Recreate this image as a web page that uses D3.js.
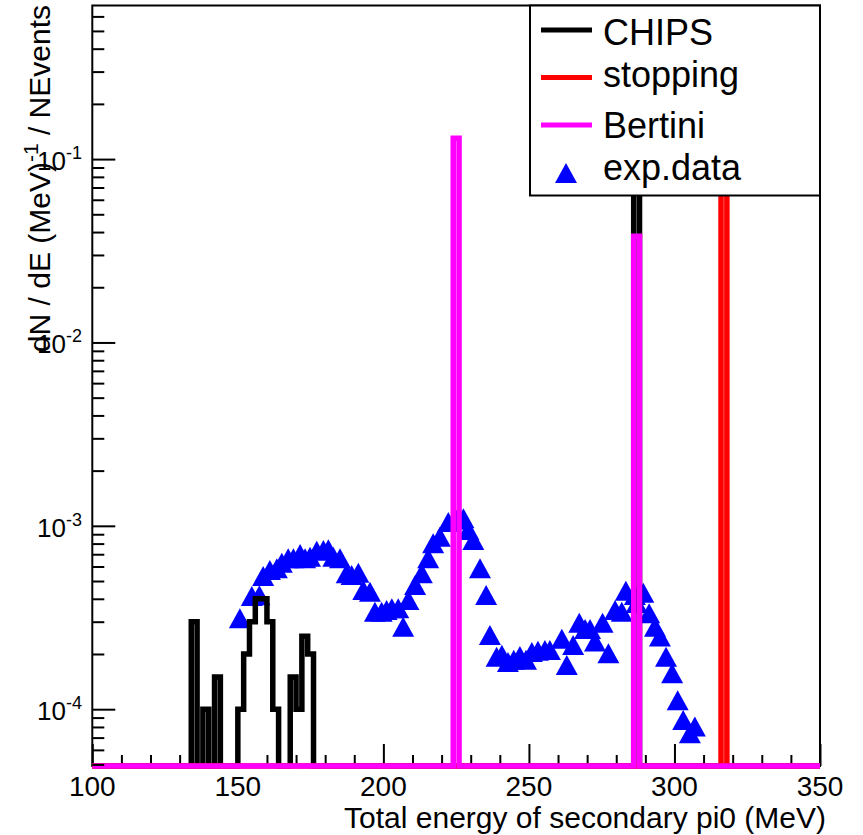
<!DOCTYPE html>
<html>
<head>
<meta charset="utf-8">
<script src="https://cdn.jsdelivr.net/npm/d3@7"></script>
<style>
  body { margin: 0; background: #fff; }
  text { font-family: "Liberation Sans", Arial, sans-serif; fill: #000; }
</style>
</head>
<body>
<svg id="chart" width="863" height="835"></svg>
<script>
// histogram binning (MeV)
const binWidth = 2
const xRange = [100, 350]

// non-empty bins: low edge (MeV) and dN/dE value
const chipsBins = [134, 138, 142, 150, 152, 154, 156, 158, 160, 162, 168, 170, 172, 174, 286]
const chipsVals = [3e-4, 1e-4, 1.5e-4, 1e-4, 2e-4, 3e-4, 4e-4, 4e-4, 3e-4, 1e-4, 1.5e-4, 1e-4, 2.5e-4, 2e-4, 0.25]
const stoppingBins = [316]
const stoppingVals = [0.35]
const bertiniBins = [224, 286]
const bertiniVals = [0.13, 0.038]

// experimental points
const expE = [150.7, 154.8, 157.4, 158.7, 161.0, 163.4, 165.1, 167.3, 169.1, 171.4, 173.1, 174.8, 177.1, 179.4,
  181.1, 182.8, 185.1, 187.4, 189.1, 191.4, 193.1, 195.4, 197.1, 199.4, 201.1, 202.9, 205.1, 206.8, 208.6,
  210.9, 213.2, 215.4, 217.1, 219.4, 222.3, 225.2, 227.5, 229.2, 230.9, 233.2, 235.3, 236.6, 238.9, 240.7,
  242.8, 244.8, 246.9, 249.0, 251.0, 253.1, 255.5, 257.2, 261.3, 263.0, 265.2, 267.3, 269.3, 271.0, 272.7,
  275.3, 277.3, 279.6, 281.9, 283.3, 286.4, 287.0, 289.3, 291.3, 293.3, 295.0, 297.1, 299.2, 301.1, 303.0,
  305.3, 307.0]
const expV = [3.13e-4, 4.14e-4, 4.18e-4, 5.33e-4, 5.74e-4, 5.87e-4, 6.29e-4, 6.65e-4, 6.65e-4, 7.02e-4, 6.65e-4,
  6.79e-4, 7.32e-4, 7.38e-4, 7.45e-4, 6.79e-4, 6.65e-4, 5.51e-4, 5.39e-4, 5.55e-4, 4.47e-4, 4.37e-4, 3.40e-4,
  3.40e-4, 3.48e-4, 3.55e-4, 3.55e-4, 2.82e-4, 3.94e-4, 4.76e-4, 5.51e-4, 6.65e-4, 8.03e-4, 8.72e-4, 1.05e-3,
  1.08e-3, 1.10e-3, 9.49e-4, 8.37e-4, 5.87e-4, 4.20e-4, 2.54e-4, 1.93e-4, 1.98e-4, 1.81e-4, 1.86e-4, 1.95e-4,
  1.86e-4, 2.05e-4, 2.08e-4, 2.10e-4, 2.10e-4, 2.42e-4, 1.74e-4, 2.24e-4, 2.96e-4, 2.74e-4, 2.74e-4, 2.34e-4,
  2.96e-4, 2.02e-4, 3.48e-4, 3.40e-4, 4.43e-4, 4.20e-4, 3.80e-4, 4.32e-4, 3.34e-4, 2.82e-4, 2.49e-4, 1.93e-4,
  1.57e-4, 1.12e-4, 8.74e-5, 7.40e-5, 8.04e-5]

const xMajor = [100, 150, 200, 250, 300, 350]
const yMajorExp = [-4, -3, -2, -1]
const yDomain = [4.9e-5, 0.688]

const legendLabels = ['CHIPS', 'stopping', 'Bertini', 'exp.data']

const padL = 92.3
const padR = 820
const padT = 5.5
const padB = 766
const lineW = 5.5

const svg = d3.select('#chart')

const x = d3.scaleLinear().domain(xRange).range([padL, padR])
const y = d3.scaleLog().domain(yDomain).range([padB, padT])

// full histogram from the sparse bins, empty bins sit on the axis floor
function fillHist (bins, vals) {
  const n = Math.round((xRange[1] - xRange[0]) / binWidth)
  const pts = []
  for (let i = 0; i <= n; i++) {
    const e = xRange[0] + i * binWidth
    const k = bins.indexOf(i === n ? e - binWidth : e)
    pts.push([e, k >= 0 ? vals[k] : yDomain[0]])
  }
  return pts
}

svg.append('defs').append('clipPath').attr('id', 'plotclip')
  .append('rect')
  .attr('x', padL).attr('y', 0)
  .attr('width', padR - padL).attr('height', padB + 4)

const histLine = d3.line()
  .x(d => x(d[0]))
  .y(d => Math.min(y(Math.max(d[1], yDomain[0])), padB))
  .curve(d3.curveStepAfter)

const plot = svg.append('g').attr('clip-path', 'url(#plotclip)')

const hists = [
  { bins: chipsBins, vals: chipsVals, color: '#000000' },
  { bins: stoppingBins, vals: stoppingVals, color: '#ff0000' },
  { bins: bertiniBins, vals: bertiniVals, color: '#ff00ff' }
]

// triangle marker, box about 22 x 20 px
const tri = 'M0,-10L11,10L-11,10Z'

plot.selectAll('.pt')
  .data(expE.map((e, i) => [e, expV[i]]))
  .join('path')
  .attr('class', 'pt')
  .attr('d', tri)
  .attr('transform', d => `translate(${x(d[0])},${y(d[1])})`)
  .attr('fill', '#0000ff')

hists.forEach(h => {
  plot.append('path')
    .attr('d', histLine(fillHist(h.bins, h.vals)))
    .attr('fill', 'none')
    .attr('stroke', h.color)
    .attr('stroke-width', lineW)
    .attr('stroke-linejoin', 'miter')
})

// frame
svg.insert('rect', 'g')
  .attr('x', padL).attr('y', padT)
  .attr('width', padR - padL).attr('height', padB - padT)
  .attr('fill', 'none')
  .attr('stroke', '#000')
  .attr('stroke-width', 2)

// x axis ticks (inside, pointing up)
const xMinor = d3.range(xRange[0], xRange[1] + 1, 10).filter(v => !xMajor.includes(v))
svg.insert('g', 'g')
  .attr('transform', `translate(0,${padB})`)
  .call(d3.axisTop(x).tickValues(xMinor).tickSize(11).tickFormat(''))
  .call(g => g.select('.domain').remove())
  .selectAll('line').attr('stroke-width', 2)
svg.insert('g', 'g')
  .attr('transform', `translate(0,${padB})`)
  .call(d3.axisTop(x).tickValues(xMajor).tickSize(22).tickFormat(''))
  .call(g => g.select('.domain').remove())
  .selectAll('line').attr('stroke-width', 2)

svg.append('g').selectAll('text')
  .data(xMajor)
  .join('text')
  .attr('x', d => x(d))
  .attr('y', 796)
  .attr('text-anchor', 'middle')
  .attr('font-size', 28)
  .text(d => d)

// y axis ticks (inside, pointing right)
const yMinor = []
for (let p = -5; p <= 0; p++) {
  for (let k = 2; k <= 9; k++) {
    const v = k * Math.pow(10, p)
    if (v >= yDomain[0] && v <= yDomain[1]) yMinor.push(v)
  }
}
const yMajor = yMajorExp.map(p => Math.pow(10, p))
svg.append('g')
  .attr('transform', `translate(${padL},0)`)
  .call(d3.axisRight(y).tickValues(yMinor).tickSize(12).tickFormat(''))
  .call(g => g.select('.domain').remove())
  .selectAll('line').attr('stroke-width', 2)
svg.append('g')
  .attr('transform', `translate(${padL},0)`)
  .call(d3.axisRight(y).tickValues(yMajor).tickSize(23).tickFormat(''))
  .call(g => g.select('.domain').remove())
  .selectAll('line').attr('stroke-width', 2)

const yLab = svg.append('g').selectAll('text')
  .data(yMajorExp)
  .join('text')
  .attr('x', 82)
  .attr('y', d => y(Math.pow(10, d)) + 11)
  .attr('text-anchor', 'end')
  .attr('font-size', 26)
yLab.append('tspan').text('10')
yLab.append('tspan').attr('dy', -11).attr('font-size', 18).text(d => d)

// axis titles
svg.append('text')
  .attr('x', 826)
  .attr('y', 828)
  .attr('text-anchor', 'end')
  .attr('font-size', 30)
  .text('Total energy of secondary pi0 (MeV)')

const yTitle = svg.append('text')
  .attr('transform', 'translate(50,5) rotate(-90)')
  .attr('text-anchor', 'end')
  .attr('font-size', 30)
yTitle.append('tspan').text('dN / dE  (MeV)')
yTitle.append('tspan').attr('dy', -12).attr('font-size', 21).text('-1')
yTitle.append('tspan').attr('dy', 12).text(' / NEvents')

// legend
const lg = svg.append('g')
lg.append('rect')
  .attr('x', 530).attr('y', padT)
  .attr('width', padR - 530).attr('height', 190)
  .attr('fill', '#fff')
  .attr('stroke', '#000')
  .attr('stroke-width', 2)

const rowY = [30, 77.5, 125, 173]
const textY = [45, 87, 138, 180]
const legendColors = ['#000000', '#ff0000', '#ff00ff']
legendLabels.forEach((lab, i) => {
  if (i < 3) {
    lg.append('line')
      .attr('x1', 541).attr('x2', 592)
      .attr('y1', rowY[i]).attr('y2', rowY[i])
      .attr('stroke', legendColors[i])
      .attr('stroke-width', 5)
  } else {
    lg.append('path')
      .attr('d', tri)
      .attr('transform', `translate(566,${rowY[i]})`)
      .attr('fill', '#0000ff')
  }
  lg.append('text')
    .attr('x', 603)
    .attr('y', textY[i])
    .attr('font-size', 36)
    .text(lab)
})
</script>
</body>
</html>
